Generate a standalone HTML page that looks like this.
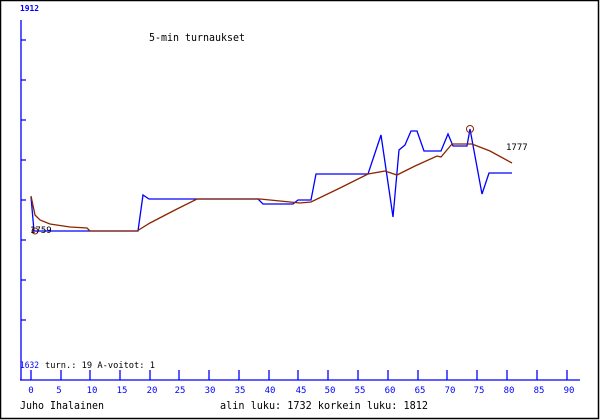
<!DOCTYPE html>
<html><head><style>
body{margin:0;background:#fff}
svg{display:block}
text{font-family:"DejaVu Sans Mono","Liberation Mono",monospace}
</style></head><body>
<svg width="600" height="420" xmlns="http://www.w3.org/2000/svg">
<rect x="0.5" y="0.5" width="598" height="418" fill="#fff" stroke="#000" stroke-width="1.5"/>
<g stroke="#00f" stroke-width="1.3" fill="none">
<line x1="21" y1="20" x2="21" y2="380"/>
<line x1="20" y1="380" x2="580" y2="380"/>
<path d="M21 40h5M21 80h5M21 120h5M21 160h5M21 200h5M21 240h5M21 280h5M21 320h5"/>
<path d="M31 370v10M61 370v10M90 370v10M120 370v10M150 370v10M179 370v10M209 370v10M239 370v10M269 370v10M298 370v10M328 370v10M358 370v10M388 370v10M418 370v10M447 370v10M477 370v10M507 370v10M537 370v10M567 370v10"/>
</g>
<g font-size="9" fill="#00f" text-anchor="middle">
<text x="31" y="393">0</text><text x="59" y="393">5</text><text x="92" y="393">10</text><text x="122" y="393">15</text><text x="152" y="393">20</text><text x="180" y="393">25</text><text x="210" y="393">30</text><text x="240" y="393">35</text><text x="270" y="393">40</text><text x="301" y="393">45</text><text x="330" y="393">50</text><text x="360" y="393">55</text><text x="390" y="393">60</text><text x="420" y="393">65</text><text x="450" y="393">70</text><text x="479" y="393">75</text><text x="509" y="393">80</text><text x="539" y="393">85</text><text x="569" y="393">90</text>
</g>
<text x="20" y="11" font-size="8" fill="#00f" font-weight="bold" textLength="19" lengthAdjust="spacingAndGlyphs">1912</text>
<text x="20" y="368" font-size="9" fill="#00f" textLength="19" lengthAdjust="spacingAndGlyphs">1632</text>
<text x="45" y="368" font-size="9" fill="#000" textLength="110" lengthAdjust="spacingAndGlyphs">turn.: 19  A-voitot: 1</text>
<text x="149" y="41" font-size="11" fill="#000" textLength="96" lengthAdjust="spacingAndGlyphs">5-min turnaukset</text>
<text x="20" y="409" font-size="11" fill="#000" textLength="84" lengthAdjust="spacingAndGlyphs">Juho Ihalainen</text>
<text x="220" y="409" font-size="11" fill="#000" textLength="208" lengthAdjust="spacingAndGlyphs">alin luku: 1732  korkein luku: 1812</text>
<polyline fill="none" stroke="#00f" stroke-width="1.3" points="31,197 34,231 138,231 143,195 149,199 258,199 263,204 293,204 298,200 311,200 316,174 368,174 381,135 393,217 399,150 405,145 411,131 417,131 424,151 441,151 448,134 453,146 467,146 470,129 482,194 489,173 512,173"/>
<polyline fill="none" stroke="#8b2500" stroke-width="1.3" points="31,196 35,215 40,220 50,224 70,227 87,228 90,231 137,231 150,223 175,210 197,199 260,199 280,201 300,203 311,202 340,188 368,174 385,171 397,175 415,166 437,156 441,157 452,144 472,144 490,151 512,163"/>
<circle cx="35" cy="231" r="3" fill="none" stroke="#8b2500"/>
<circle cx="470" cy="129" r="3.5" fill="none" stroke="#8b2500"/>
<text x="30" y="233" font-size="9" fill="#000">1759</text>
<text x="506" y="150" font-size="9" fill="#000">1777</text>
</svg>
</body></html>
